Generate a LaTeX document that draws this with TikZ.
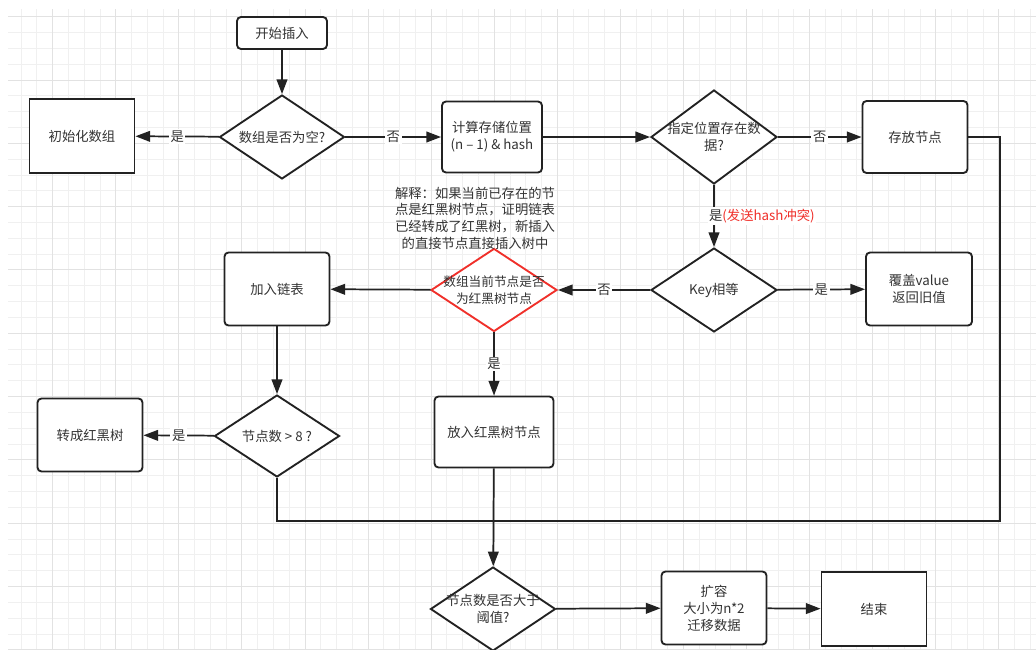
\documentclass[tikz,border=0pt]{standalone}
\usepackage{fontspec}
\setmainfont{Noto Sans CJK SC}
\usetikzlibrary{shapes.geometric,arrows.meta}
\definecolor{linec}{HTML}{222222}
\definecolor{textc}{HTML}{333333}
\definecolor{gridminor}{HTML}{F0F0F0}
\definecolor{gridmajor}{HTML}{E2E2E2}
\definecolor{redc}{HTML}{F0302A}
\tikzset{
  sz/.style 2 args={minimum width={#1*0.75pt}, minimum height={#2*0.75pt}},
  base/.style={draw=linec, line width=1.4pt, fill=white, text=textc, align=center, inner sep=0pt,
    font=\fontsize{10}{12.75}\selectfont},
  rbox/.style={base, rectangle, rounded corners=3pt},
  sbox/.style={base, rectangle},
  dia/.style={base, diamond, inner xsep=-6pt, inner ysep=0pt},
  conn/.style={draw=linec, line width=1.3pt, -{Triangle[length=11pt,width=8pt]}},
  plainline/.style={draw=linec, line width=1.3pt},
  lbl/.style={fill=white, text=textc, inner sep=1.2pt, font=\fontsize{10}{12}\selectfont},
  gminor/.style={draw=gridminor, line width=0.75pt},
  gmajor/.style={draw=gridmajor, line width=0.75pt},
}
\begin{document}
\begin{tikzpicture}[x=0.75pt, y=-0.75pt]
\useasboundingbox (0,0) rectangle (1036,650);
\fill[white] (0,0) rectangle (1036,650);
% grid
\foreach \i in {0,...,64} { \draw[gminor] ({21.16+15.77*\i},9) -- ({21.16+15.77*\i},650); }
\foreach \j in {0,...,40} { \draw[gminor] (8,{16.7+15.83*\j}) -- (1036,{16.7+15.83*\j}); }
\foreach \i in {0,...,15} { \draw[gmajor] ({52.7+63.08*\i},9) -- ({52.7+63.08*\i},650); }
\foreach \j in {0,...,10} { \draw[gmajor] (8,{16.7+63.3*\j}) -- (1036,{16.7+63.3*\j}); }

% nodes
\node[rbox, sz={90}{32}] (start) at (282,33) {开始插入};
\node[dia, sz={125}{84}, shape aspect=1.49] (empty) at (282,137) {数组是否为空?};
\node[sbox, sz={105}{74}] (init) at (82,136) {初始化数组};
\node[rbox, sz={100}{71}] (calc) at (492,137) {计算存储位置\\(n – 1) \& hash};
\node[dia, sz={126}{94}, shape aspect=1.34] (exist) at (714,137) {指定位置存在数\\据?};
\node[rbox, sz={105}{72}] (store) at (915,137) {存放节点};
\node[dia, sz={126}{84}, shape aspect=1.5] (key) at (714,290) {Key相等};
\node[rbox, sz={106}{73}] (cover) at (919,289) {覆盖value\\返回旧值};
\node[dia, draw=redc, sz={126}{83}, shape aspect=1.52, inner xsep=-10pt,
      font=\fontsize{9.5}{12.5}\selectfont] (red) at (494,290) {数组当前节点是否\\为红黑树节点};
\node[rbox, sz={105}{73}] (list) at (277,289) {加入链表};
\node[dia, sz={125}{82}, shape aspect=1.52] (cnt8) at (277,436) {节点数 > 8 ?};
\node[rbox, sz={105}{73}] (tree) at (90,435) {转成红黑树};
\node[rbox, sz={119}{71}] (puttree) at (494,432) {放入红黑树节点};
\node[dia, sz={125}{84}, shape aspect=1.49] (thr) at (493,609) {节点数是否大于\\阈值?};
\node[rbox, sz={105}{73}] (expand) at (714,608) {扩容\\大小为n*2\\迁移数据};
\node[sbox, sz={105}{74}] (end) at (874,609) {结束};

\node[text=textc, align=center, font=\fontsize{10}{12.5}\selectfont] (note) at (475,218)
  {解释：如果当前已存在的节\\点是红黑树节点，证明链表\\已经转成了红黑树，新插入\\的直接节点直接插入树中};

\coordinate (loop) at (1000,521);

% connectors
\draw[conn] (start) -- (empty);
\draw[conn] (empty) -- node[lbl] {是} (init);
\draw[conn] (empty) -- node[lbl] {否} (calc);
\draw[conn] (calc) -- (exist);
\draw[conn] (exist) -- node[lbl] {否} (store);
\draw[conn] (exist) -- node[lbl, anchor=west, xshift=-5.5pt] {是\textcolor{redc}{(发送hash冲突)}} (key);
\draw[conn] (key) -- node[lbl] {是} (cover);
\draw[conn] (key) -- node[lbl] {否} (red);
\draw[conn] (red) -- (list);
\draw[conn] (red) -- node[lbl] {是} (puttree);
\draw[conn] (list) -- (cnt8);
\draw[conn] (cnt8) -- node[lbl] {是} (tree);
\draw[plainline] (store.east) -| (loop) -| (cnt8.south);
\draw[conn] (puttree) -- (thr);
\draw[conn] (thr) -- (expand);
\draw[conn] (expand) -- (end);
\end{tikzpicture}
\end{document}
